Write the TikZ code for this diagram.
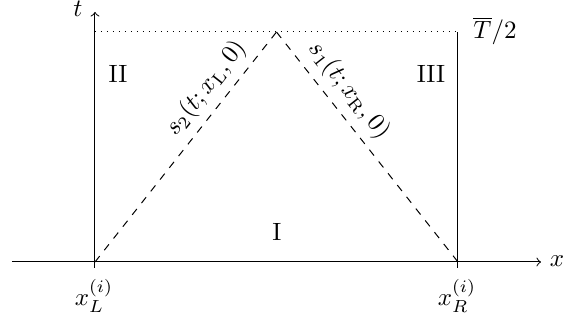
\documentclass[tikz,border=0pt]{standalone}
\usetikzlibrary{arrows}
\begin{document}
\begin{tikzpicture}[x=0.4pt,y=-0.4pt,
  axis/.style={->,line width=0.4pt},
  edge/.style={line width=0.4pt},
  ray/.style={dashed,line width=0.4pt},
  lvl/.style={dotted,line width=0.4pt},
  lbl/.style={inner sep=0pt}]
\useasboundingbox (0,0) rectangle (563,320);
% key points
\coordinate (xl) at (95,262);
\coordinate (xr) at (458,262);
\coordinate (xlb) at (95,268);
\coordinate (xrb) at (458,268);
\coordinate (tl) at (95,32);
\coordinate (tr) at (458,32);
\coordinate (apex) at (276.5,32);
\coordinate (xs) at (12,262);
\coordinate (xe) at (541,262);
\coordinate (te) at (95,12);
% axes
\draw[axis] (xs) -- (xe);
\draw[axis] (xlb) -- (te);
\draw[edge] (xrb) -- (tr);
\draw[lvl] (tl) -- (tr);
% characteristics
\draw[ray] (xl) -- node[pos=0.70,sloped,above,inner sep=3pt] (s2) {$s_2(t;x_{\mathrm{L}},0)$} (apex);
\draw[ray] (apex) -- node[pos=0.31,sloped,above,inner sep=3pt] (s1) {$s_1(t;x_{\mathrm{R}},0)$} (xr);
% labels
\node[lbl] (tlab) at (78,9) {$t$};
\node[lbl] (xlab) at (557,261) {$x$};
\node[lbl] (Tlab) at (495,31) {$\overline{T}/2$};
\node[lbl] (r2) at (118,74) {II};
\node[lbl] (r3) at (431,74) {III};
\node[lbl] (r1) at (277,232) {I};
\node[lbl] (xL) at (94,296) {$x_L^{(i)}$};
\node[lbl] (xR) at (457,296) {$x_R^{(i)}$};
\end{tikzpicture}
\end{document}
